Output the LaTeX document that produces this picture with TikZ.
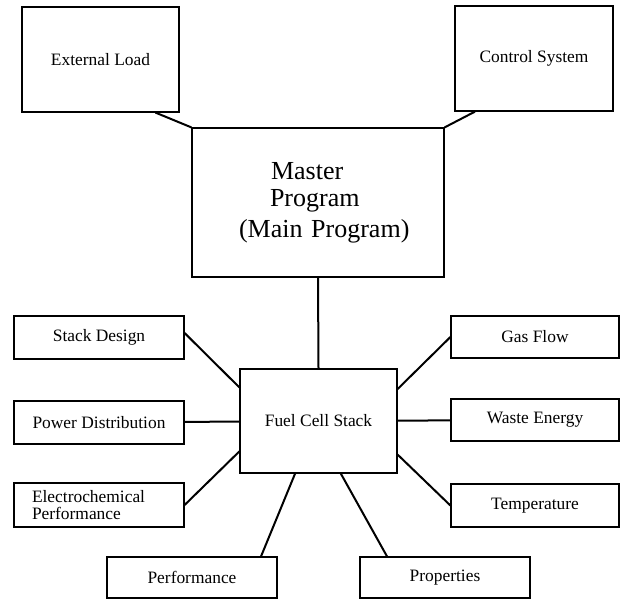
\documentclass[tikz,border=0pt]{standalone}
\usepackage{fontspec}
\setmainfont{Liberation Serif}

\begin{document}
\begin{tikzpicture}[x=1pt,y=-1pt,
  box/.style={draw,line width=1.2pt,inner sep=0pt,minimum width=170pt,minimum height=43pt,
    font=\fontsize{17.4}{18}\selectfont},
  link/.style={line width=2pt}]
  \useasboundingbox (0,0) rectangle (620,599);
  % top row
  \node[box,minimum width=157pt,minimum height=105pt] (load) at (100.5,59.5) {External Load};
  \node[box,minimum width=158pt,minimum height=105pt] (ctrl) at (534,58.5) {Control System};
  \node[box,minimum width=252pt,minimum height=149pt,text width=252pt,align=left,
    font=\fontsize{26}{27}\selectfont] (master) at (318,202.5)
    {\hspace*{79pt}Master\\\hspace*{78pt}Program\\[4pt]\hspace*{47pt}(Main Program)};
  \node[box,minimum width=157pt,minimum height=104pt] (fuel) at (318.5,421) {Fuel Cell Stack};
  % left side
  \node[box] (sd) at (99,337.5) {Stack Design};
  \node[box] (pd) at (99,422.5) {Power Distribution};
  \node[box,minimum height=44pt,inner xsep=18pt,text width=134pt,align=left,
    font=\fontsize{17.4}{17}\selectfont] (ec) at (99,505) {Electrochemical\\Performance};
  % bottom
  \node[box,minimum height=41pt] (perf) at (192,577.5) {Performance};
  \node[box,minimum height=41pt] (prop) at (445,577.5) {Properties};
  % right side
  \node[box,minimum width=168pt,minimum height=42pt] (gas) at (535,337) {Gas Flow};
  \node[box,minimum width=168pt,minimum height=42pt] (waste) at (535,420) {Waste Energy};
  \node[box,minimum width=168pt] (temp) at (535,505.5) {Temperature};

  \draw[link] (load.316.6) -- (master.north west);
  \draw[link] (ctrl.222.6) -- (master.north east);
  \draw[link] (master.south) -- (fuel.north);
  \draw[link] (sd.3) -- (fuel.157.2);
  \draw[link] (pd) -- (fuel);
  \draw[link] (ec.east) -- (fuel.201.5);
  \draw[link] (perf.17.5) -- (fuel.246.6);
  \draw[link] (prop.160.5) -- (fuel.293.4);
  \draw[link] (gas.west) -- (fuel.22.2);
  \draw[link] (waste) -- (fuel);
  \draw[link] (temp.west) -- (fuel.337.2);
\end{tikzpicture}
\end{document}
